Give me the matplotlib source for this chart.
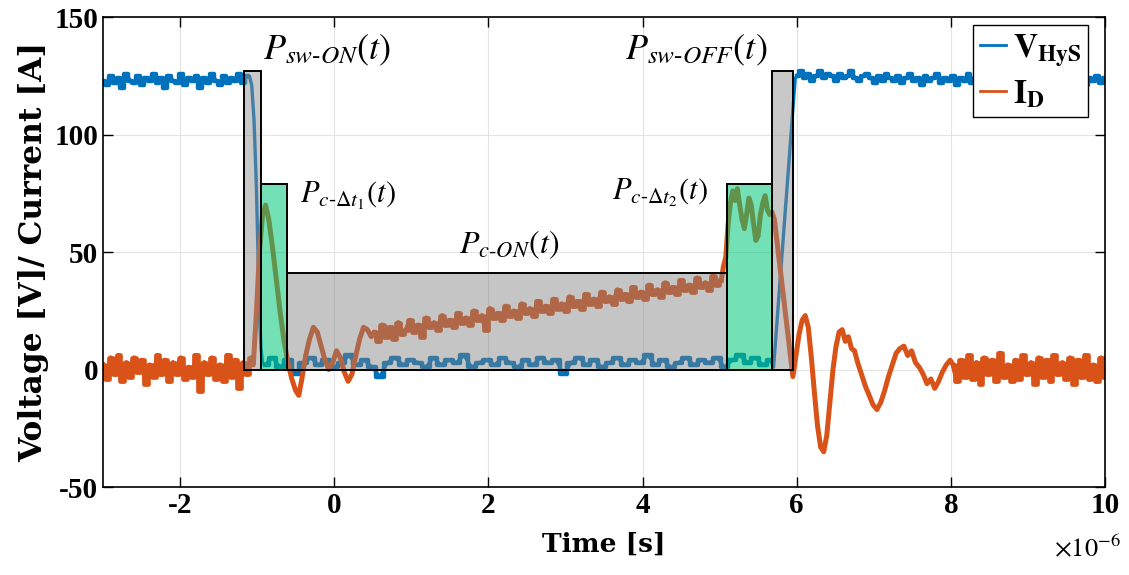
import numpy as np
import matplotlib
matplotlib.use("Agg")
import matplotlib.pyplot as plt
from matplotlib.ticker import FuncFormatter
from matplotlib.lines import Line2D

plt.rcParams['font.family'] = ['Liberation Serif', 'DejaVu Serif']
plt.rcParams['mathtext.fontset'] = 'stix'
plt.rcParams['axes.unicode_minus'] = False

# ---- V_HyS samples (time in us, volts) ----
v_pre = [123, 121, 125, 122, 124, 120, 126, 123, 122, 125, 121, 124, 123, 126, 122, 124, 120, 125, 123,
         122, 126, 121, 124, 123, 125, 120, 124, 122, 126, 123, 121, 125, 122, 124, 123, 126, 122, 125]
v_fall_t = [-1.10, -1.07, -1.04, -1.01, -0.99, -0.97, -0.95, -0.93]
v_fall = [125, 121, 106, 78, 50, 24, 9, 3]
v_on = [2, 5, 1, 4, -2, 3, 5, 2, 4, 1, 3, 6, 2, 4, 1, -3, 3, 5, 2, 4, 3, 1, 5, 2, 4, 3, 6, 1, 3, 4, 2, 5, 3,
        1, 4, 2, 5, 3, 4, -2, 3, 5, 2, 4, 1, 3, 5, 2, 4, 3, 6, 2, 4, 1, 3, 5, 2, 4, 3, 5, 1, 4, 6, 3, 5, 2, 4]
v_rise_t = [5.70, 5.98]
v_rise = [1, 124]
v_post = [125, 127, 124, 126, 123, 125, 127, 124, 126, 125, 123, 126, 124, 125, 127, 124, 123, 125, 126, 124,
          122, 125, 123, 126, 124, 123, 125, 122, 124, 126, 123, 124, 121, 125, 123, 124, 126, 122, 124, 123,
          125, 121, 124, 123, 126, 122, 124, 123, 125, 122, 124, 121, 125, 123, 124, 122, 126, 123, 124, 121,
          125, 123, 122, 124, 126, 123, 121, 124, 123, 125, 122, 124, 123, 126, 121, 124, 123, 125, 122, 124]

# ---- I_D samples (time in us, amps) ----
i_pre = [2, -4, 5, -2, 6, -5, 3, -3, 5, -1, 4, -6, 2, -3, 6, -2, 4, -5, 3, -2, 5, -4, 1, -3, 6, -9, 3, -2,
         5, -4, 2, -5, 6, -3, 4, -8, 3, -2, 5]
i_turnon_t = [-1.05, -1.01, -0.97, -0.93, -0.89, -0.85, -0.80, -0.75, -0.70, -0.65, -0.60, -0.55, -0.50,
              -0.46, -0.42, -0.37, -0.32, -0.27, -0.22, -0.17, -0.12, -0.07, -0.02, 0.03, 0.08, 0.13, 0.18,
              0.23, 0.28, 0.33, 0.38, 0.43, 0.48]
i_turnon = [2, 24, 50, 66, 70, 64, 52, 38, 24, 12, 3, -4, -9, -11, -4, 6, 13, 18, 16, 10, 4, 0, 3, 8, 5,
            -1, -5, -2, 6, 13, 18, 17, 14]
i_ramp = [16, 12, 19, 14, 18, 13, 20, 15, 17, 21, 16, 19, 14, 22, 18, 20, 17, 23, 19, 21, 18, 24, 20, 22,
          19, 25, 21, 23, 17, 26, 22, 24, 21, 27, 23, 25, 22, 28, 24, 26, 23, 29, 25, 27, 24, 30, 26, 28,
          25, 31, 27, 29, 26, 32, 28, 30, 27, 33, 29, 31, 28, 34, 30, 32, 29, 35, 31, 33, 30, 36, 32, 34,
          31, 37, 33, 35, 32, 38, 34, 36, 33, 39, 35, 37, 34, 40, 36, 38]
i_peak_t = [5.05, 5.08, 5.11, 5.14, 5.17, 5.20, 5.23, 5.26, 5.29, 5.32, 5.35, 5.38, 5.41, 5.44, 5.47,
            5.50, 5.53, 5.56, 5.59, 5.62, 5.65, 5.68, 5.71]
i_peak = [44, 48, 62, 71, 76, 72, 77, 70, 64, 60, 66, 73, 70, 62, 55, 57, 66, 71, 74, 68, 66, 67, 64]
i_ring_t = [5.95, 5.99, 6.03, 6.07, 6.11, 6.15, 6.19, 6.23, 6.27, 6.31, 6.35, 6.39, 6.43, 6.47, 6.51,
            6.55, 6.59, 6.63, 6.67, 6.71, 6.75, 6.79, 6.84, 6.89, 6.94, 6.99, 7.04, 7.09, 7.14, 7.19,
            7.24, 7.29, 7.34, 7.39, 7.44, 7.49, 7.54, 7.59, 7.64, 7.69, 7.74, 7.79, 7.84, 7.89, 7.94, 7.99]
i_ring = [-3, 6, 15, 21, 23, 18, 5, -10, -24, -33, -35, -28, -14, 0, 10, 16, 17, 12, 14, 9, 8, 3, -2, -7,
          -11, -15, -17, -14, -9, -3, 2, 7, 9, 10, 6, 8, 3, 1, -2, -6, -4, -8, -5, -1, 2, 4]
i_post = [2, -5, 4, -3, 6, -4, 3, -6, 5, -2, 4, -5, 7, -3, 2, -5, 4, -4, 6, -2, 3, -6, 5, -3, 4, -5, 6,
          -2, 3, -4, 5, -6, 4, -3, 6, -4, 2, -5, 5, -3]

# ---- loss intervals (us) and box heights ----
box_start = [-1.17, -0.95, -0.61, 5.09, 5.68]
box_end = [-0.95, -0.61, 5.09, 5.68, 5.95]
box_top = [127, 79, 41, 79, 127]
box_kind = ['sw', 'c', 'on', 'c', 'sw']
box_labels = [r'$P_{sw\text{-}ON}(t)$', r'$P_{c\text{-}\Delta t_1}(t)$', r'$P_{c\text{-}ON}(t)$',
              r'$P_{c\text{-}\Delta t_2}(t)$', r'$P_{sw\text{-}OFF}(t)$']
label_pos = [(-0.92, 136), (-0.45, 74), (1.62, 53), (3.60, 75), (3.77, 136)]
label_size = [26, 22, 23, 22, 26]

# sampled stretches (quantised scope noise) vs. switching edges
t_v_pre = np.linspace(-3.0, -1.13, len(v_pre))
t_v_on = np.linspace(-0.90, 5.66, len(v_on))
t_v_post = np.linspace(6.0, 10.0, len(v_post))
t_i_pre = np.linspace(-3.0, -1.08, len(i_pre))
t_i_ramp = np.linspace(0.52, 5.02, len(i_ramp))
t_i_post = np.linspace(8.03, 10.0, len(i_post))

t_v = np.concatenate([t_v_pre, v_fall_t, t_v_on, v_rise_t, t_v_post])
v_hys = np.concatenate([v_pre, v_fall, v_on, v_rise, v_post])
t_i = np.concatenate([t_i_pre, i_turnon_t, t_i_ramp, i_peak_t, i_ring_t, t_i_post])
i_d = np.concatenate([i_pre, i_turnon, i_ramp, i_peak, i_ring, i_post])

blue = '#0072BD'
orange = '#D95319'
us = 1e-6

fig = plt.figure(figsize=(11.29, 5.75), dpi=100)
ax = fig.add_axes([0.0912, 0.153, 0.8876, 0.817])

ax.plot(t_v * us, v_hys, color=blue, lw=2.4, zorder=2)
for tt, vv in [(t_v_pre, v_pre), (t_v_on, v_on), (t_v_post, v_post)]:
    ax.plot(tt * us, vv, color=blue, lw=3.2, drawstyle='steps-mid', zorder=2)
ax.plot(t_i * us, i_d, color=orange, lw=3.6, zorder=2)
for tt, vv in [(t_i_pre, i_pre), (t_i_ramp, i_ramp), (t_i_post, i_post)]:
    ax.plot(tt * us, vv, color=orange, lw=3.4, drawstyle='steps-mid', zorder=2)

fills = {'sw': ('#8c8c8c', 0.48), 'c': ('#00c878', 0.55), 'on': ('#808080', 0.45)}
for s, e, h, k in zip(box_start, box_end, box_top, box_kind):
    col, a = fills[k]
    ax.bar(s * us, h, width=(e - s) * us, align='edge', color=col, alpha=a, zorder=3)
    ax.bar(s * us, h, width=(e - s) * us, align='edge', fill=False,
           edgecolor='black', lw=1.4, zorder=4)

for txt, (x, y), fs in zip(box_labels, label_pos, label_size):
    ax.text(x * us, y, txt, fontsize=fs, ha='left', va='center', zorder=5)

ax.set_xlim(-3 * us, 10 * us)
ax.set_ylim(-50, 150)
ax.set_xticks(np.arange(-2, 11, 2) * us)
ax.set_yticks([-50, 0, 50, 100, 150])
ax.xaxis.set_major_formatter(FuncFormatter(lambda x, pos: f'{x / us:.0f}'))
ax.text(1.016, -0.13, r'$\times10^{-6}$', transform=ax.transAxes, ha='right', va='center',
        fontsize=19)
ax.grid(True, color='#e4e4e4', lw=0.8)
ax.set_axisbelow(True)

ax.tick_params(direction='in', top=True, right=True, length=7, width=1, labelsize=21)
for lab in ax.get_xticklabels() + ax.get_yticklabels():
    lab.set_fontweight('bold')
for sp in ax.spines.values():
    sp.set_linewidth(1.2)

ax.set_xlabel('Time [s]', fontsize=19, fontweight='bold', labelpad=9, family='DejaVu Serif')
ax.set_ylabel('Voltage [V]/ Current [A]', fontsize=22.5, fontweight='bold', labelpad=4,
              family='DejaVu Serif')

handles = [Line2D([], [], color=blue, lw=2), Line2D([], [], color=orange, lw=2)]
leg = ax.legend(handles, [r'$\mathbf{V}_{\mathbf{HyS}}$', r'$\mathbf{I}_{\mathbf{D}}$'],
                loc='upper right', bbox_to_anchor=(0.983, 0.983), fontsize=24,
                handlelength=0.8, handletextpad=0.2, borderaxespad=0, fancybox=False,
                framealpha=1, edgecolor='black', borderpad=0.2, labelspacing=0.3)
leg.get_frame().set_linewidth(1.0)

fig.savefig('out.png', dpi=100)
